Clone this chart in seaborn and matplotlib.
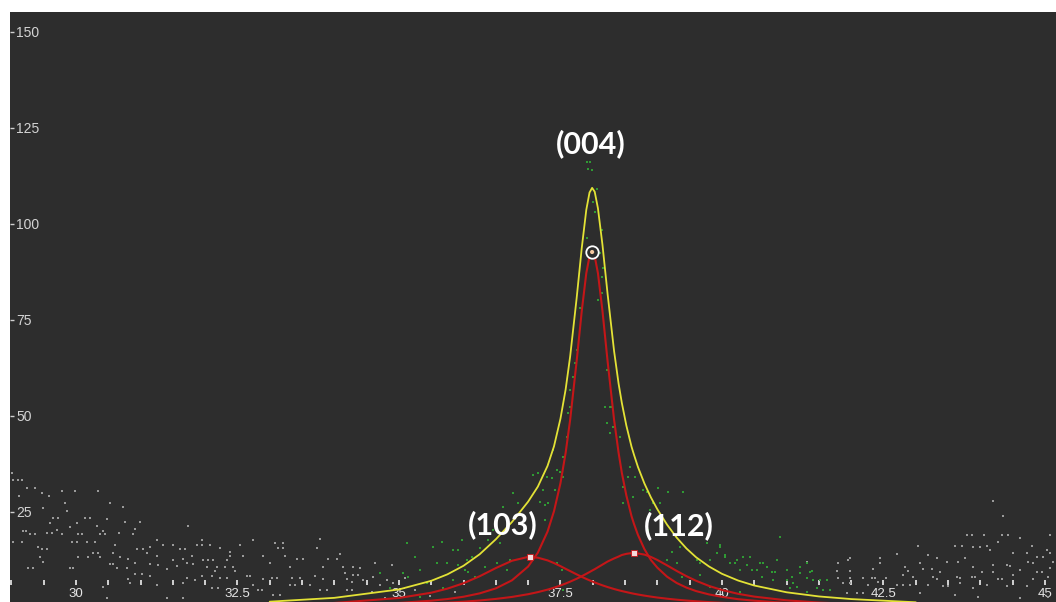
import pandas as pd
import matplotlib
matplotlib.use('Agg')
import matplotlib.pyplot as plt
import seaborn as sns

# Fitted profiles (2theta vs intensity)
fit_x = [33.0, 34.0, 35.0, 35.5, 35.75, 36.0, 36.25, 36.5, 36.75, 37.0, 37.15, 37.3,
         37.4, 37.5, 37.58, 37.65, 37.75, 37.83, 37.9, 37.95, 37.99, 38.03, 38.08, 38.15,
         38.23, 38.33, 38.4, 38.45, 38.52, 38.6, 38.64, 38.7, 38.8, 38.9, 39.0, 39.15,
         39.3, 39.45, 39.6, 39.8, 40.0, 40.25, 40.5, 41.0, 41.5, 42.0, 43.0]
total_fit = [1.65, 2.64, 4.83, 7.08, 8.76, 11.0, 14.0, 17.9, 22.4, 27.7, 31.6, 37.0,
             42.1, 49.3, 56.9, 65.5, 80.6, 93.8, 103.7, 108.2, 109.4, 108.4, 104.1, 94.6,
             81.7, 66.9, 58.4, 53.4, 47.5, 42.0, 39.8, 36.7, 32.4, 28.8, 25.7, 21.7,
             18.3, 15.5, 13.2, 10.8, 8.9, 7.15, 5.85, 4.09, 3.01, 2.32, 1.49]
peak_004 = [0.48, 0.75, 1.32, 1.90, 2.33, 2.93, 3.81, 5.11, 7.21, 10.8, 14.4, 19.9,
            25.2, 32.5, 40.4, 49.0, 64.2, 77.4, 87.2, 91.6, 92.7, 91.6, 87.2, 77.4,
            64.2, 49.0, 40.4, 35.2, 29.3, 23.9, 21.8, 19.0, 15.3, 12.5, 10.5, 8.15,
            6.5, 5.31, 4.4, 3.53, 2.9, 2.29, 1.9, 1.3, 0.96, 0.74, 0.48]
peak_103 = [0.77, 1.31, 2.60, 3.98, 5.04, 6.45, 8.27, 10.4, 12.3, 13.3, 13.1, 12.4,
            11.7, 10.9, 10.2, 9.61, 8.76, 8.11, 7.57, 7.20, 6.92, 6.65, 6.33, 5.90,
            5.45, 4.94, 4.62, 4.41, 4.14, 3.84, 3.70, 3.51, 3.22, 2.96, 2.72, 2.42,
            2.16, 1.94, 1.75, 1.53, 1.35, 1.17, 1.02, 0.79, 0.63, 0.52, 0.36]
peak_112 = [0.40, 0.58, 0.91, 1.20, 1.39, 1.64, 1.95, 2.36, 2.88, 3.59, 4.13, 4.78,
            5.29, 5.86, 6.37, 6.86, 7.61, 8.28, 8.90, 9.36, 9.74, 10.1, 10.6, 11.3,
            12.1, 12.9, 13.4, 13.8, 14.1, 14.3, 14.3, 14.2, 13.9, 13.3, 12.5, 11.1,
            9.64, 8.28, 7.08, 5.74, 4.69, 3.69, 2.96, 1.99, 1.42, 1.06, 0.65]

# Peak maxima and their labels
peak_labels = ['(004)', '(103)', '(112)']
peak_pos = [37.99, 37.03, 38.64]
peak_height = [92.7, 13.3, 14.3]

# Measured points outside the peak (grey)
gray_x = [29.02, 29.10, 29.16, 29.01, 29.24, 29.37, 29.47, 29.78, 29.98, 30.34, 29.12, 29.58,
          30.53, 30.73, 29.49, 29.83, 29.86, 29.64, 29.72, 30.14, 30.22, 30.48, 30.76, 30.99,
          29.60, 30.02, 29.18, 29.23, 29.71, 29.91, 30.33, 30.42, 30.67, 30.91, 29.29, 29.37,
          29.55, 29.63, 29.78, 30.03, 30.09, 30.37, 30.45, 30.88, 29.02, 29.16, 29.94, 30.02,
          30.17, 30.29, 30.60, 31.25, 29.41, 29.47, 29.55, 30.94, 31.04, 31.15, 31.35, 31.50,
          31.61, 31.69, 31.87, 31.95, 30.26, 30.34, 30.57, 30.68, 30.80, 31.10, 31.25, 31.80,
          30.03, 30.19, 30.37, 29.44, 29.49, 30.91, 31.50, 31.66, 31.97, 30.53, 30.57, 31.15,
          31.27, 31.56, 31.72, 31.81, 29.26, 29.33, 29.91, 29.95, 30.63, 30.79, 31.41, 30.91,
          31.02, 31.15, 30.80, 31.72, 31.95, 30.84, 31.25, 31.66, 31.84, 30.42, 30.48, 31.41,
          31.66, 31.73,
          32.74, 33.08, 33.20, 33.13, 33.20, 33.78, 33.73, 31.95, 32.07, 32.23, 32.54, 32.38,
          32.38, 32.89, 33.24, 34.09, 33.90, 34.04, 32.05, 32.12, 32.34, 32.59, 33.42, 33.51,
          34.89, 34.63, 33.00, 32.03, 32.18, 32.31, 32.43, 33.31, 33.82, 34.13, 34.29, 34.40,
          32.15, 32.46, 32.11, 32.23, 32.34, 32.65, 32.69, 32.89, 33.03, 33.11, 33.34, 33.47,
          33.70, 33.82, 34.16, 34.29, 34.37, 34.20, 34.27, 34.44, 34.60, 34.81, 34.91, 32.11,
          32.20, 32.74, 32.82, 32.88, 33.31, 33.39, 33.62, 33.78, 33.89, 34.20, 34.27, 34.71,
          33.05, 33.16, 35.09, 35.25, 35.48, 35.87, 34.58, 34.78,
          44.20, 44.35, 43.79, 43.87, 44.06, 44.33, 44.43, 44.61, 45.08, 44.27, 43.04, 43.61,
          43.72, 43.89, 44.00, 44.10, 44.80, 45.03, 45.08, 44.15, 41.98, 42.45, 42.71, 43.19,
          43.33, 43.48, 43.76, 44.50, 44.72, 44.88, 44.97, 41.32, 41.80, 42.45, 43.07, 43.65,
          44.20, 44.41, 44.46, 44.74, 44.81, 45.12, 41.78, 41.98, 42.34, 42.83, 42.88, 43.11,
          43.25, 43.37, 43.89, 44.02, 44.20, 44.61, 44.88, 44.95, 45.08, 41.80, 41.98, 42.18,
          42.32, 42.37, 42.54, 42.80, 42.96, 43.27, 43.33, 43.64, 43.68, 43.87, 43.92, 44.27,
          44.33, 44.50, 44.81, 45.05, 41.87, 41.98, 42.26, 42.41, 42.71, 42.80, 42.91, 43.19,
          43.42, 43.50, 43.68, 43.89, 44.10, 44.41, 44.72, 41.93, 42.09, 42.18, 43.07, 43.61,
          43.96, 44.61, 45.05, 41.95]
gray_y = [33.3, 33.3, 33.3, 35.2, 31.3, 31.3, 29.9, 30.5, 30.5, 30.5, 29.2, 29.2,
          27.3, 26.3, 26.0, 27.3, 25.3, 23.4, 23.4, 23.4, 23.4, 23.2, 22.4, 22.4,
          22.1, 22.1, 20.1, 20.1, 20.3, 21.1, 21.4, 20.1, 19.5, 20.6, 19.3, 19.3,
          19.5, 19.5, 19.3, 19.3, 19.3, 19.3, 19.3, 19.3, 17.2, 17.2, 17.2, 17.2,
          17.2, 17.2, 16.4, 17.7, 15.9, 15.4, 15.4, 15.4, 15.4, 15.9, 16.4, 16.4,
          15.4, 15.4, 16.4, 17.7, 14.3, 14.3, 14.3, 13.3, 12.8, 14.3, 13.5, 13.5,
          13.3, 13.3, 13.3, 13.3, 12.0, 11.7, 12.5, 12.8, 12.5, 11.5, 11.5, 11.5,
          11.2, 10.9, 11.7, 11.5, 10.4, 10.4, 10.4, 10.4, 10.4, 10.4, 10.2, 8.9,
          8.9, 8.3, 7.6, 7.8, 8.3, 6.5, 6.0, 6.5, 7.3, 5.5, 2.6, 2.6,
          2.6, 21.4,
          17.7, 16.9, 16.9, 15.6, 15.6, 18.0, 15.6, 16.4, 16.4, 15.6, 16.4, 14.6,
          13.5, 13.5, 13.5, 14.1, 12.8, 12.8, 12.5, 12.5, 12.5, 13.5, 12.8, 12.8,
          11.2, 11.7, 11.7, 10.7, 10.7, 10.7, 10.7, 10.7, 10.7, 10.7, 10.7, 10.4,
          9.6, 9.6, 8.3, 7.8, 7.8, 8.3, 8.3, 7.6, 7.8, 7.8, 7.8, 7.8,
          8.3, 7.6, 9.1, 8.6, 8.6, 7.6, 6.8, 7.3, 8.1, 7.3, 6.5, 5.2,
          5.2, 6.0, 4.7, 4.7, 6.0, 6.0, 6.0, 4.7, 4.7, 4.7, 4.7, 6.0,
          3.4, 3.4, 7.8, 4.7, 3.1, 4.2, 4.2, 2.6,
          27.9, 24.0, 19.0, 19.0, 19.0, 19.0, 19.0, 18.2, 19.0, 17.2, 16.1, 16.1,
          16.1, 15.9, 15.9, 16.1, 16.1, 15.1, 14.3, 15.1, 13.0, 13.0, 14.1, 13.8,
          13.0, 12.0, 13.0, 14.3, 14.3, 13.3, 13.3, 12.0, 11.7, 11.7, 11.7, 12.0,
          11.2, 11.2, 10.9, 12.0, 11.7, 12.0, 9.6, 9.6, 10.2, 10.7, 9.6, 10.2,
          10.2, 9.4, 10.7, 9.4, 9.4, 9.9, 9.4, 9.4, 10.4, 7.8, 7.8, 7.8,
          7.8, 7.8, 7.8, 8.6, 8.1, 8.1, 7.6, 8.1, 7.8, 8.1, 8.1, 7.6,
          7.6, 8.6, 7.6, 8.1, 6.5, 6.5, 6.0, 6.8, 6.0, 6.0, 6.0, 6.0,
          5.7, 5.7, 6.5, 5.2, 6.0, 5.7, 5.7, 3.9, 3.9, 3.9, 3.9, 3.4,
          2.9, 2.6, 2.9, 12.5]

# Measured points in the peak region (green)
green_x = [35.12, 35.25, 35.06, 35.14, 35.33, 35.43, 35.53, 35.67, 35.59, 35.74, 35.84, 35.91,
           35.98, 35.91, 36.05, 36.02, 36.07, 36.13, 36.25, 36.18, 36.33, 36.38, 36.46, 36.52,
           36.56, 36.61, 36.77, 36.84, 36.52, 36.67, 36.72, 37.18, 37.26, 37.23, 37.07, 37.15,
           37.29, 37.37, 37.31, 37.26, 37.41, 37.54, 37.45, 37.49, 37.54, 37.38, 37.60, 37.62,
           37.65, 37.65, 37.69, 37.72, 37.76, 37.45, 37.52, 37.54, 35.84, 35.68, 35.33, 34.71,
           34.86,
           37.91, 37.96, 37.93, 37.99, 38.07, 38.00, 38.03, 38.14, 37.91, 38.11, 38.16, 38.14,
           38.08, 37.80, 38.14, 38.30, 38.22, 38.47,
           38.22, 38.19, 38.27, 38.31, 38.42, 38.27, 38.58, 38.65, 38.55, 38.47, 38.78, 38.84,
           39.01, 39.16, 39.40, 38.93, 39.04, 38.89, 38.85, 39.23, 39.35, 39.15, 39.30, 39.61,
           39.66, 39.81, 39.92, 39.97, 40.05, 40.12, 40.23, 40.28, 40.39, 40.46, 40.54, 40.59,
           40.70, 40.85, 40.90, 41.01, 41.08, 40.79, 41.10, 39.38, 39.66, 38.62, 39.01,
           39.97, 39.77, 40.05, 40.20, 40.33, 40.43, 40.63, 40.77, 40.82, 40.62, 41.01, 41.21,
           41.32, 41.21, 41.36, 41.41, 41.52, 41.63, 41.05, 41.16, 41.32, 41.47, 39.81, 40.28,
           41.39, 41.32, 41.56, 41.67]
green_y = [16.9, 13.3, 9.1, 8.1, 9.9, 6.5, 15.9, 17.2, 11.7, 11.7, 15.1, 15.1,
           17.7, 11.2, 12.5, 9.9, 9.4, 13.3, 15.6, 8.1, 10.7, 17.7, 20.3, 20.3,
           16.9, 26.3, 29.9, 27.3, 11.7, 9.9, 12.5, 27.6, 26.8, 30.7, 34.6, 35.2,
           34.1, 33.9, 27.3, 22.9, 30.7, 34.1, 35.9, 35.4, 39.3, 41.1, 44.5, 50.8,
           52.3, 56.8, 60.2, 63.8, 67.2, 11.7, 9.9, 4.7, 7.3, 5.2, 2.9, 9.1,
           5.2,
           116.1, 116.1, 114.3, 114.1, 109.1, 105.7, 103.1, 98.4, 96.4, 92.4, 88.5, 86.2,
           80.2, 78.1, 82.0, 52.3, 48.2, 31.5,
           62.0, 52.3, 52.3, 47.1, 44.5, 45.6, 36.7, 34.1, 34.1, 27.3, 30.7, 30.2,
           31.3, 30.2, 30.2, 27.3, 27.3, 25.5, 20.3, 14.6, 15.9, 12.5, 11.7, 12.5,
           11.7, 12.5, 14.3, 15.9, 13.3, 11.7, 12.5, 9.9, 11.2, 9.9, 9.9, 11.7,
           10.7, 12.5, 18.5, 9.9, 8.1, 7.3, 6.5, 8.1, 8.6, 28.9, 23.7,
           16.4, 16.9, 13.8, 11.7, 13.3, 13.3, 11.7, 9.4, 9.4, 8.1, 7.3, 10.7,
           11.7, 9.1, 9.4, 7.3, 7.3, 7.3, 5.2, 5.5, 4.2, 5.2, 5.5, 4.2,
           9.6, 7.8, 4.7, 4.7]

major_ticks = [30, 32.5, 35, 37.5, 40, 42.5, 45]
major_labels = ['30', '32.5', '35', '37.5', '40', '42.5', '45']
minor_ticks = [29 + 0.5 * i for i in range(34)]
y_ticks = [25, 50, 75, 100, 125, 150]

BG = '#2d2d2d'
YELLOW = '#e3e236'
RED = '#c41618'
GREY_DOT = '#9a9a9a'
GREEN_DOT = '#2f9a34'

sns.set_style('dark', {'axes.facecolor': BG})
plt.rcParams['font.family'] = ['Liberation Sans', 'DejaVu Sans']

fig = plt.figure(figsize=(10.56, 6.02), dpi=100, facecolor='white')
ax = fig.add_axes([10 / 1056, 0, 1046 / 1056, 590 / 602])
ax.set_facecolor(BG)

# data points
sns.scatterplot(x=gray_x, y=gray_y, ax=ax, color=GREY_DOT, marker='s', s=3, linewidth=0, zorder=2)
sns.scatterplot(x=green_x, y=green_y, ax=ax, color=GREEN_DOT, marker='s', s=4, linewidth=0, zorder=2)

# fitted curves
sns.lineplot(x=fit_x, y=total_fit, ax=ax, color=YELLOW, linewidth=1.3, estimator=None, zorder=3)
for prof in [peak_004, peak_103, peak_112]:
    sns.lineplot(x=fit_x, y=prof, ax=ax, color=RED, linewidth=1.5, estimator=None, zorder=4)

# peak markers
ax.scatter(peak_pos[1:], peak_height[1:], marker='s', s=14, facecolor='#f4dada',
           edgecolor=RED, linewidth=0.6, zorder=6)
ax.scatter(peak_pos[:1], peak_height[:1], marker='o', s=80, facecolor=BG,
           edgecolor='white', linewidth=1.3, zorder=6)
ax.scatter(peak_pos[:1], peak_height[:1], marker='o', s=9, facecolor='#f6c9a0',
           edgecolor='none', zorder=7)

# peak labels
offsets = [(-1, 78), (-20, 23), (32, 20)]
for lab, xp, yp, off in zip(peak_labels, peak_pos, peak_height, offsets):
    ax.annotate(lab, (xp, yp), xytext=off, textcoords='offset points', ha='center', va='center',
                fontsize=22, fontweight='bold', color='white', family=['Lato', 'DejaVu Sans'],
                zorder=8)

ax.set_xlim(28.98, 45.17)
ax.set_ylim(1.56, 155.2)
ax.set_xlabel('')
ax.set_ylabel('')
for s in ax.spines.values():
    s.set_visible(False)

# y axis: ticks and labels inside the frame
ax.set_yticks(y_ticks)
ax.tick_params(axis='y', direction='in', length=3, width=1, color='#d0d0d0', pad=-4.5,
               labelsize=10, labelcolor='#d4d4d4', left=True)
for t in ax.get_yticklabels():
    t.set_horizontalalignment('left')
ax.tick_params(axis='x', bottom=False, labelbottom=False)
ax.grid(False)

# x axis drawn near the bottom, inside the frame
sec = ax.secondary_xaxis(0.028)
sec.set_xticks(major_ticks)
sec.set_xticklabels(major_labels)
sec.set_xticks(minor_ticks, minor=True)
sec.tick_params(which='both', direction='in', length=3.6, width=1.2, color='#eeeeee',
                labelsize=9.5, labelcolor='#e6e6e6', pad=1.5)
for s in sec.spines.values():
    s.set_visible(False)

fig.savefig('out.png', dpi=100, facecolor='white')
